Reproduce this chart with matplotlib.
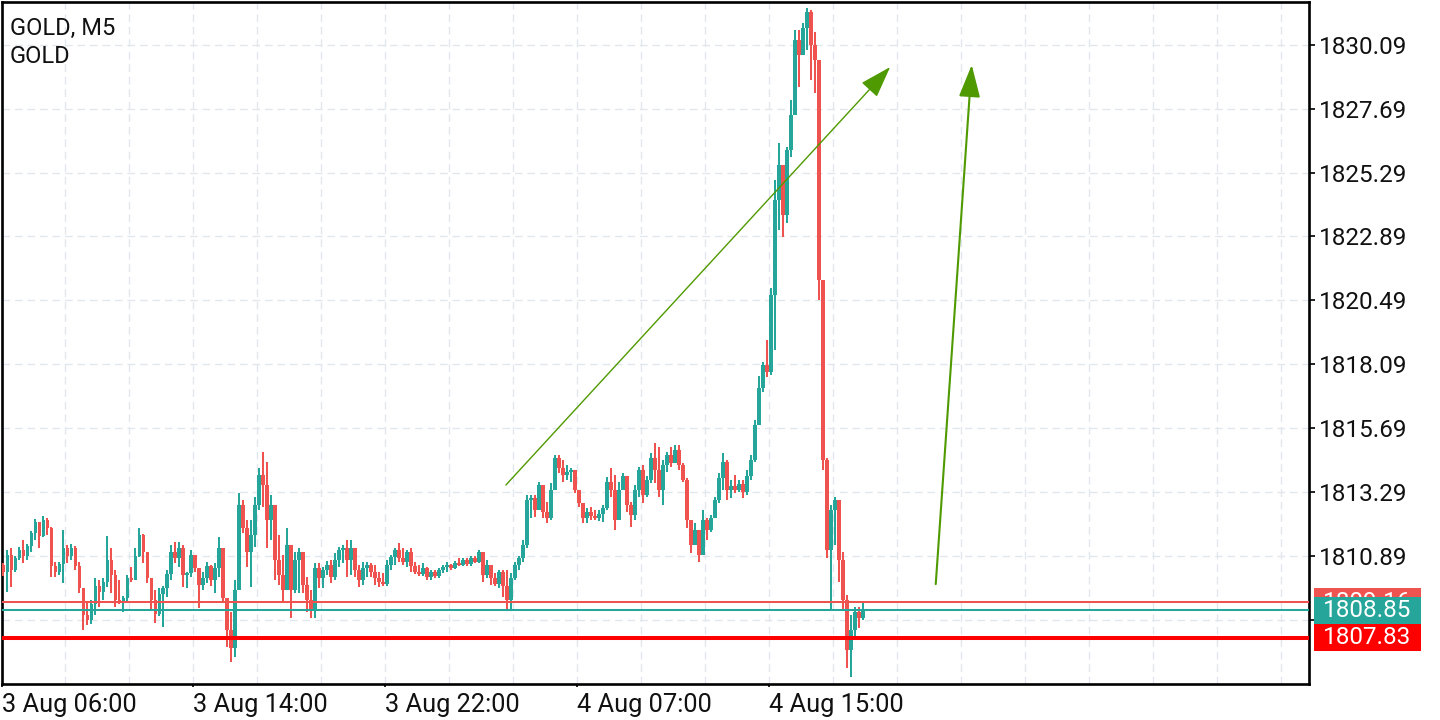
import matplotlib
matplotlib.use("Agg")
import matplotlib.pyplot as plt
import numpy as np
from matplotlib.transforms import blended_transform_factory
from matplotlib.patches import Rectangle

plt.rcParams['font.family'] = ['Roboto', 'DejaVu Sans']

# ---------------- data ----------------
symbol_title = "GOLD, M5"
symbol_sub = "GOLD"

first_open = 1810.56
closes = [
    1810.29, 1810.93, 1810.37, 1810.82, 1811.12, 1810.89, 1811.27, 1811.76, 1812.17, 1811.64,
    1812.24, 1811.94, 1810.52, 1810.29, 1810.59, 1811.19, 1810.89, 1811.19, 1810.52, 1809.69,
    1808.68, 1808.49, 1809.09, 1809.77, 1809.54, 1809.92, 1810.74, 1810.18, 1809.24, 1809.17,
    1809.32, 1810.07, 1809.99, 1810.89, 1811.68, 1811.04, 1810.07, 1809.24, 1808.72, 1809.47,
    1809.69, 1810.22, 1811.04, 1810.82, 1811.19, 1810.18, 1810.26, 1810.93, 1810.44, 1809.80,
    1810.07, 1810.52, 1809.99, 1810.44, 1811.19, 1809.32, 1808.12, 1807.44, 1809.62, 1812.81,
    1811.94, 1811.04, 1811.68, 1812.81, 1813.94, 1813.56, 1812.24, 1812.81, 1810.74, 1810.18,
    1809.62, 1811.31, 1809.62, 1810.74, 1811.04, 1809.80, 1809.24, 1808.87, 1810.44, 1810.07,
    1810.37, 1810.56, 1810.10, 1810.74, 1811.12, 1811.19, 1810.74, 1811.19, 1810.37, 1809.99,
    1810.44, 1810.56, 1810.29, 1810.07, 1809.92, 1809.84, 1810.56, 1810.86, 1811.12, 1810.82,
    1810.67, 1811.04, 1810.52, 1810.29, 1810.22, 1810.44, 1810.10, 1810.29, 1810.14, 1810.37,
    1810.48, 1810.56, 1810.44, 1810.63, 1810.56, 1810.74, 1810.59, 1810.82, 1810.67, 1811.04,
    1810.18, 1810.56, 1810.07, 1809.84, 1810.29, 1809.77, 1809.24, 1810.07, 1810.56, 1810.82,
    1811.31, 1813.00, 1813.07, 1812.62, 1813.56, 1812.55, 1812.32, 1813.37, 1814.57, 1814.20,
    1813.94, 1814.05, 1814.12, 1813.37, 1812.88, 1812.32, 1812.55, 1812.40, 1812.32, 1812.47,
    1812.70, 1813.67, 1813.37, 1812.24, 1813.37, 1813.90, 1812.81, 1812.43, 1813.37, 1814.12,
    1813.18, 1813.75, 1814.57, 1814.12, 1813.37, 1814.31, 1814.69, 1814.39, 1814.87, 1814.31,
    1813.75, 1812.24, 1811.31, 1811.87, 1810.93, 1812.24, 1811.87, 1812.32, 1813.00, 1813.82,
    1814.42, 1813.37, 1813.52, 1813.37, 1813.60, 1813.30, 1813.90, 1814.50, 1815.81, 1817.20,
    1818.06, 1817.80, 1820.69, 1824.26, 1825.57, 1823.70, 1826.14, 1827.45, 1830.27, 1829.70,
    1830.72, 1831.32, 1830.08, 1829.52, 1821.26, 1814.50, 1811.12, 1812.62, 1813.00, 1810.74,
    1809.24, 1807.36, 1808.12, 1808.79, 1808.57, 1808.85,
]
highs = [
    1810.63, 1811.12, 1811.19, 1810.89, 1811.23, 1811.49, 1811.34, 1811.83, 1812.28, 1812.17,
    1812.40, 1812.32, 1811.98, 1810.67, 1810.67, 1811.87, 1811.31, 1811.34, 1811.27, 1810.67,
    1809.62, 1809.13, 1809.24, 1810.07, 1809.99, 1810.07, 1811.64, 1811.19, 1810.37, 1809.99,
    1809.39, 1810.18, 1810.48, 1811.19, 1811.94, 1811.72, 1810.93, 1810.07, 1809.62, 1809.69,
    1809.77, 1810.37, 1811.31, 1811.42, 1811.42, 1811.31, 1810.29, 1811.12, 1810.93, 1810.44,
    1810.29, 1810.67, 1810.56, 1810.63, 1811.61, 1810.74, 1809.24, 1808.79, 1809.99, 1813.26,
    1813.00, 1812.24, 1812.24, 1813.11, 1814.20, 1814.80, 1814.42, 1813.18, 1812.81, 1811.68,
    1810.93, 1811.94, 1811.31, 1811.04, 1811.19, 1810.56, 1810.10, 1809.62, 1810.63, 1810.63,
    1810.48, 1810.71, 1810.74, 1811.01, 1811.23, 1811.31, 1811.49, 1811.49, 1811.01, 1810.56,
    1810.67, 1810.67, 1810.63, 1810.56, 1810.29, 1810.26, 1810.74, 1810.93, 1811.19, 1811.38,
    1811.19, 1811.12, 1811.19, 1810.67, 1810.56, 1810.63, 1810.48, 1810.37, 1810.37, 1810.44,
    1810.56, 1810.67, 1810.59, 1810.71, 1810.82, 1810.82, 1810.82, 1810.89, 1810.89, 1811.12,
    1811.04, 1810.74, 1810.56, 1810.26, 1810.37, 1810.37, 1810.37, 1810.26, 1810.67, 1810.89,
    1811.49, 1813.18, 1813.18, 1813.18, 1813.67, 1813.56, 1812.92, 1813.63, 1814.69, 1814.69,
    1814.50, 1814.31, 1814.20, 1813.94, 1813.37, 1812.88, 1812.70, 1812.73, 1812.62, 1812.62,
    1812.81, 1813.86, 1814.20, 1813.94, 1813.67, 1814.01, 1813.56, 1812.92, 1813.56, 1814.24,
    1814.31, 1813.90, 1814.76, 1815.13, 1814.99, 1814.50, 1814.80, 1814.99, 1815.06, 1815.06,
    1814.39, 1813.82, 1812.06, 1812.13, 1811.76, 1812.62, 1812.32, 1812.43, 1813.11, 1814.01,
    1814.76, 1814.50, 1813.75, 1813.94, 1813.75, 1813.75, 1814.12, 1814.69, 1816.00, 1817.65,
    1818.18, 1819.00, 1820.96, 1825.01, 1826.40, 1825.09, 1826.25, 1828.02, 1830.64, 1830.64,
    1830.91, 1831.47, 1831.39, 1830.57, 1829.52, 1821.26, 1814.57, 1812.81, 1813.11, 1812.24,
    1811.04, 1809.43, 1808.68, 1808.98, 1808.98, 1809.13,
]
lows = [
    1810.14, 1809.54, 1809.73, 1810.29, 1810.74, 1810.63, 1810.74, 1811.04, 1811.49, 1811.19,
    1811.61, 1811.68, 1810.10, 1810.10, 1810.18, 1809.88, 1810.63, 1810.74, 1810.37, 1809.50,
    1808.12, 1808.30, 1808.34, 1808.68, 1808.98, 1809.24, 1809.73, 1809.50, 1808.98, 1809.09,
    1808.79, 1809.13, 1809.92, 1809.99, 1810.86, 1810.63, 1809.88, 1808.87, 1808.38, 1808.64,
    1808.23, 1809.35, 1809.99, 1810.63, 1810.48, 1809.73, 1809.69, 1810.10, 1810.29, 1808.94,
    1809.62, 1809.88, 1809.77, 1809.50, 1810.10, 1809.17, 1807.47, 1806.91, 1807.10, 1809.62,
    1811.76, 1810.48, 1809.73, 1811.23, 1812.62, 1812.73, 1811.19, 1811.49, 1809.99, 1809.80,
    1809.17, 1809.73, 1808.57, 1809.50, 1809.50, 1809.50, 1808.79, 1808.57, 1808.57, 1809.69,
    1809.69, 1810.18, 1809.88, 1809.99, 1810.48, 1810.63, 1810.10, 1810.18, 1810.10, 1809.73,
    1809.80, 1810.10, 1810.10, 1809.80, 1809.73, 1809.77, 1809.77, 1810.37, 1810.56, 1810.67,
    1810.56, 1810.48, 1810.29, 1810.22, 1810.14, 1810.14, 1809.99, 1809.99, 1810.07, 1810.07,
    1810.26, 1810.29, 1810.37, 1810.41, 1810.52, 1810.52, 1810.52, 1810.52, 1810.63, 1810.63,
    1809.92, 1810.07, 1809.80, 1809.77, 1809.69, 1809.35, 1808.87, 1808.87, 1809.99, 1810.37,
    1810.67, 1811.19, 1812.32, 1812.36, 1812.62, 1812.32, 1812.13, 1812.24, 1813.37, 1814.01,
    1813.67, 1813.75, 1813.67, 1813.26, 1812.73, 1812.13, 1812.13, 1812.24, 1812.24, 1812.21,
    1812.17, 1812.62, 1813.11, 1811.87, 1812.24, 1813.37, 1812.55, 1811.98, 1812.24, 1813.11,
    1812.88, 1813.11, 1813.63, 1813.63, 1813.11, 1812.81, 1814.05, 1814.24, 1814.39, 1814.12,
    1813.67, 1811.94, 1811.01, 1811.31, 1810.67, 1810.93, 1811.49, 1811.79, 1812.32, 1812.88,
    1813.37, 1813.00, 1813.07, 1813.26, 1813.30, 1813.07, 1813.18, 1813.75, 1814.42, 1815.89,
    1817.05, 1817.61, 1817.69, 1818.63, 1823.13, 1822.87, 1823.40, 1825.87, 1828.02, 1828.50,
    1829.70, 1829.89, 1828.77, 1828.28, 1820.50, 1814.12, 1810.82, 1808.87, 1811.31, 1809.92,
    1808.87, 1806.69, 1806.35, 1807.85, 1808.19, 1808.49,
]
bars_per_candle = 2  # each drawn candle spans two M5 slots

time_labels = ["3 Aug 06:00", "3 Aug 14:00", "3 Aug 22:00", "4 Aug 07:00", "4 Aug 15:00"]
time_label_slots = [0, 96, 192, 288, 384]

price_ticks = [1808.49, 1810.89, 1813.29, 1815.69, 1818.09, 1820.49,
               1822.89, 1825.29, 1827.69, 1830.09]

ask_price = 1809.16
bid_price = 1808.85
level_price = 1807.83

arrow1_start = (252.3, 1813.56)
arrow1_end = (444.5, 1829.25)
arrow2_start = (467.3, 1809.84)
arrow2_end = (485.3, 1829.33)

# ---------------- styling ----------------
UP = '#26a69a'
DOWN = '#ef5350'
LEVEL = '#ff0000'
GRID = '#e1e7ed'
ARROW = '#4f9a00'

W, H = 1440, 720
fig = plt.figure(figsize=(W / 100, H / 100), dpi=100)
fig.patch.set_facecolor('white')
ax = fig.add_axes([1.5 / W, 36 / H, 1307.5 / W, 682.5 / H])
ax.set_facecolor('white')

ax.set_xlim(0.25, 654)
ax.set_ylim(1806.09, 1831.71)

c = np.array(closes)
hi = np.array(highs)
lo = np.array(lows)
o = np.concatenate([[first_open], c[:-1]])
n = len(c)
x = np.arange(n) * bars_per_candle + bars_per_candle / 2
up = c >= o
cols = np.where(up, UP, DOWN)
hi = np.maximum(hi, np.maximum(o, c))
lo = np.minimum(lo, np.minimum(o, c))

ax.vlines(x, lo, hi, colors=cols, linewidth=1.45, zorder=3)
body_bottom = np.minimum(o, c)
body_h = np.maximum(np.abs(c - o), 0.04)
ax.bar(x, body_h, bottom=body_bottom, width=bars_per_candle * 0.97,
       color=cols, linewidth=0, zorder=3)

# price lines
ax.axhline(ask_price, color=DOWN, lw=1.45, zorder=4)
ax.axhline(bid_price, color=UP, lw=1.45, zorder=4)
ax.axhline(level_price, color=LEVEL, lw=2.9, zorder=4)

# arrows
ax.annotate('', xy=arrow1_end, xytext=arrow1_start,
            arrowprops=dict(arrowstyle='-|>,head_length=20,head_width=6.6',
                            color=ARROW, lw=1.0, mutation_scale=1,
                            shrinkA=0, shrinkB=0), zorder=5)
ax.annotate('', xy=arrow2_end, xytext=arrow2_start,
            arrowprops=dict(arrowstyle='-|>,head_length=20,head_width=6.6',
                            color=ARROW, lw=1.5, mutation_scale=1,
                            shrinkA=0, shrinkB=0), zorder=5)

# grid
ax.set_xticks(np.arange(32, 654, 32), minor=True)
ax.set_xticks(time_label_slots)
ax.set_xticklabels(time_labels, ha='left')
ax.set_yticks(price_ticks)
ax.set_yticklabels([''] + [f"{p:.2f}" for p in price_ticks[1:]])
ax.grid(False)
for xv in np.arange(32, 654, 32):
    ax.axvline(xv, color=GRID, lw=1.0, dashes=(5.5, 3.5), zorder=1)
for yv in price_ticks:
    ax.axhline(yv, color=GRID, lw=1.0, dashes=(5.5, 3.5), zorder=1)

ax.yaxis.tick_right()
ax.tick_params(axis='y', which='major', length=4.3, width=1.3, pad=2.5,
               labelsize=17.5, colors='#111111')
ax.tick_params(axis='x', which='major', length=2.2, width=1.3, pad=4,
               labelsize=18.3, colors='#111111')
ax.tick_params(axis='x', which='minor', length=0)

for sp in ax.spines.values():
    sp.set_linewidth(1.9)
    sp.set_color('black')

# price label boxes on the right (later boxes cover earlier ones)
tr = blended_transform_factory(ax.transAxes, ax.transData)
box_h = 27.5 / 26.63
z = 10
for price, col, txt in [(ask_price, DOWN, f"{ask_price:.2f}"),
                        (bid_price, UP, f"{bid_price:.2f}"),
                        (level_price, LEVEL, f"{level_price:.2f}")]:
    r = Rectangle((1.0035, price - box_h / 2), 107 / 1307.5, box_h,
                  transform=tr, facecolor=col, edgecolor='none',
                  clip_on=False, zorder=z)
    ax.add_patch(r)
    ax.text(1.0035 + 53.5 / 1307.5, price, txt, transform=tr, ha='center',
            va='center', color='white', fontsize=17.5, clip_on=False,
            zorder=z + 1)
    z += 2

# title texts
fig.text(10 / W, 1 - 35 / H, symbol_title, fontsize=17, color='#111111',
         ha='left', va='baseline')
fig.text(10 / W, 1 - 63 / H, symbol_sub, fontsize=17, color='#111111',
         ha='left', va='baseline')

fig.savefig('out.png', dpi=100, facecolor='white')
